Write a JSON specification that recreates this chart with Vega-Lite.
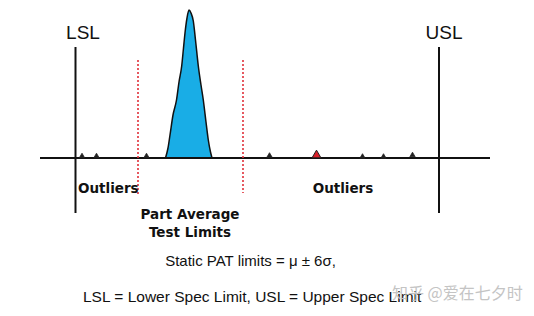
{
  "$schema": "https://vega.github.io/schema/vega-lite/v6.json",
  "width": 534,
  "height": 316,
  "autosize": {"type": "fit", "contains": "padding"},
  "padding": 0,
  "background": "white",
  "config": {"view": {"stroke": null}},
  "datasets": {
    "peak": [
      {"x": 165.5, "y": 158}, {"x": 168, "y": 148}, {"x": 170, "y": 135}, {"x": 173, "y": 115},
      {"x": 176.5, "y": 100}, {"x": 179, "y": 82}, {"x": 181.7, "y": 66}, {"x": 183.5, "y": 48},
      {"x": 185, "y": 33}, {"x": 187, "y": 18}, {"x": 189, "y": 10}, {"x": 191, "y": 13},
      {"x": 193.3, "y": 21}, {"x": 195.5, "y": 40}, {"x": 198.3, "y": 66}, {"x": 201, "y": 85},
      {"x": 203.3, "y": 100}, {"x": 206, "y": 122}, {"x": 208.3, "y": 140}, {"x": 210.5, "y": 152},
      {"x": 212, "y": 158}
    ],
    "specLines": [
      {"x": 75.5, "y": 47, "y2": 213},
      {"x": 439, "y": 47, "y2": 213}
    ],
    "patLines": [
      {"x": 138, "y": 60, "y2": 195},
      {"x": 243, "y": 60, "y2": 193}
    ],
    "baseline": [{"x": 40, "x2": 490, "y": 158}],
    "outliers": [
      {"x": 82, "y": 155.5},
      {"x": 96.5, "y": 155.5},
      {"x": 146.5, "y": 155.5},
      {"x": 269.5, "y": 155},
      {"x": 362.5, "y": 156},
      {"x": 383.5, "y": 156},
      {"x": 412.5, "y": 154.5}
    ],
    "flagged": [
      {"x": 316.5, "y": 154}
    ],
    "bigLabels": [
      {"x": 83, "y": 39, "text": "LSL"},
      {"x": 444, "y": 39, "text": "USL"}
    ],
    "boldLabels": [
      {"x": 78, "y": 193, "text": "Outliers", "align": "left"},
      {"x": 343, "y": 193, "text": "Outliers", "align": "center"},
      {"x": 190, "y": 219, "text": "Part Average", "align": "center"},
      {"x": 190, "y": 237, "text": "Test Limits", "align": "center"}
    ],
    "notes": [
      {"x": 250.5, "y": 265.5, "text": "Static PAT limits = μ ± 6σ,", "pos": "center"},
      {"x": 83, "y": 301.5, "text": "LSL = Lower Spec Limit, USL = Upper Spec Limit", "pos": "left"}
    ],
    "watermark": [{"x": 392, "y": 299, "text": "知乎 @爱在七夕时"}]
  },
  "encoding": {
    "x": {"field": "x", "type": "quantitative", "scale": {"domain": [0, 534], "nice": false, "zero": false}, "axis": null},
    "y": {"field": "y", "type": "quantitative", "scale": {"domain": [0, 316], "reverse": true, "nice": false, "zero": false}, "axis": null}
  },
  "layer": [
    {
      "data": {"name": "peak"},
      "mark": {"type": "area", "color": "#19ade6", "opacity": 1, "fillOpacity": 1, "interpolate": "monotone", "line": {"color": "#111111", "strokeWidth": 1.5}},
      "encoding": {"y2": {"datum": 158}}
    },
    {
      "data": {"name": "baseline"},
      "mark": {"type": "rule", "color": "#111111", "strokeWidth": 2},
      "encoding": {"x2": {"field": "x2"}}
    },
    {
      "data": {"name": "specLines"},
      "mark": {"type": "rule", "color": "#111111", "strokeWidth": 2},
      "encoding": {"y2": {"field": "y2"}}
    },
    {
      "data": {"name": "patLines"},
      "mark": {"type": "rule", "color": "#e0303a", "strokeWidth": 1.6, "strokeDash": [2, 2]},
      "encoding": {"y2": {"field": "y2"}}
    },
    {
      "data": {"name": "outliers"},
      "mark": {"type": "point", "shape": "triangle-up", "filled": true, "fill": "#222222", "stroke": "#222222", "strokeWidth": 0.8, "size": 28, "opacity": 1}
    },
    {
      "data": {"name": "flagged"},
      "mark": {"type": "point", "shape": "triangle-up", "filled": true, "fill": "#d9202a", "stroke": "#222222", "strokeWidth": 1, "size": 80, "opacity": 1}
    },
    {
      "data": {"name": "bigLabels"},
      "mark": {"type": "text", "font": "Liberation Sans", "fontSize": 19, "color": "#111111", "baseline": "alphabetic", "align": "center"},
      "encoding": {"text": {"field": "text"}}
    },
    {
      "data": {"name": "boldLabels"},
      "transform": [{"filter": "datum.align == 'left'"}],
      "mark": {"type": "text", "font": "DejaVu Sans", "fontWeight": "bold", "fontSize": 13.5, "color": "#111111", "baseline": "alphabetic", "align": "left"},
      "encoding": {"text": {"field": "text"}}
    },
    {
      "data": {"name": "boldLabels"},
      "transform": [{"filter": "datum.align == 'center'"}],
      "mark": {"type": "text", "font": "DejaVu Sans", "fontWeight": "bold", "fontSize": 13.5, "color": "#111111", "baseline": "alphabetic", "align": "center"},
      "encoding": {"text": {"field": "text"}}
    },
    {
      "data": {"name": "notes"},
      "transform": [{"filter": "datum.pos == 'center'"}],
      "mark": {"type": "text", "font": "Liberation Sans", "fontSize": 15, "color": "#111111", "baseline": "alphabetic", "align": "center"},
      "encoding": {"text": {"field": "text"}}
    },
    {
      "data": {"name": "notes"},
      "transform": [{"filter": "datum.pos == 'left'"}],
      "mark": {"type": "text", "font": "Liberation Sans", "fontSize": 15.5, "color": "#111111", "baseline": "alphabetic", "align": "left"},
      "encoding": {"text": {"field": "text"}}
    },
    {
      "data": {"name": "watermark"},
      "mark": {"type": "text", "font": "Noto Sans CJK SC", "fontSize": 16, "color": "#c4c4c4", "baseline": "alphabetic", "align": "left"},
      "encoding": {"text": {"field": "text"}}
    }
  ]
}
